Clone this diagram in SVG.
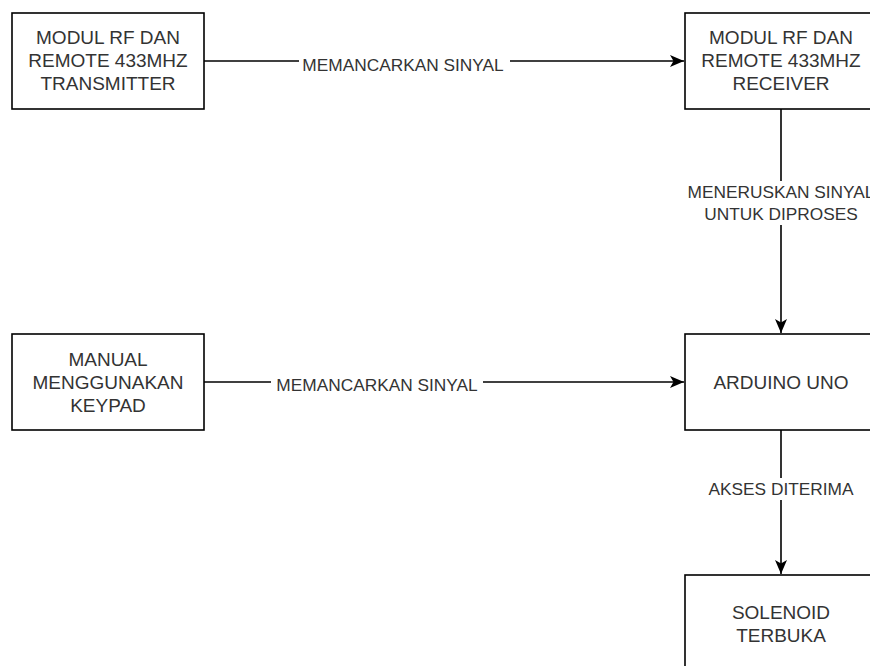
<svg xmlns="http://www.w3.org/2000/svg" width="870" height="666" viewBox="0 0 870 666">
<style>
.box{fill:#fff;stroke:#000;stroke-width:1.6}
.t{font-family:"Liberation Sans",Arial,sans-serif;font-size:19px;fill:#333;text-anchor:middle}
.l{font-family:"Liberation Sans",Arial,sans-serif;font-size:17.3px;fill:#333;text-anchor:middle}
.e{stroke:#000;stroke-width:1.6;fill:none}
.bg{fill:#fff}
</style>
<defs>
<marker id="arr" markerUnits="userSpaceOnUse" markerWidth="16" markerHeight="14" viewBox="0 0 16 14" refX="14" refY="7" orient="auto">
<path d="M14,7 L0,1 L3.5,7 L0,13 Z" fill="#000"/>
</marker>
</defs>
<rect width="870" height="666" fill="#fff"/>
<g id="connectors">
<path class="e" d="M204,61 L684,61" marker-end="url(#arr)"/>
<rect class="bg" x="299" y="52" width="211" height="22"/>
<text class="l" x="403" y="71">MEMANCARKAN SINYAL</text>
<path class="e" d="M204,382 L684,382" marker-end="url(#arr)"/>
<rect class="bg" x="271" y="373" width="212" height="22"/>
<text class="l" x="377" y="391">MEMANCARKAN SINYAL</text>
<path class="e" d="M781,109 L781,333" marker-end="url(#arr)"/>
<rect class="bg" x="684" y="181" width="194" height="44"/>
<text class="l" x="781" y="198">MENERUSKAN SINYAL</text>
<text class="l" x="781" y="220">UNTUK DIPROSES</text>
<path class="e" d="M781,430 L781,574" marker-end="url(#arr)"/>
<rect class="bg" x="700" y="478" width="160" height="22"/>
<text class="l" x="781" y="495">AKSES DITERIMA</text>
</g>
<g id="transmitter">
<rect class="box" x="12" y="13" width="192" height="96"/>
<text class="t" x="108" y="44">MODUL RF DAN</text>
<text class="t" x="108" y="67">REMOTE 433MHZ</text>
<text class="t" x="108" y="90">TRANSMITTER</text>
</g>
<g id="receiver">
<rect class="box" x="685" y="13" width="192" height="96"/>
<text class="t" x="781" y="44">MODUL RF DAN</text>
<text class="t" x="781" y="67">REMOTE 433MHZ</text>
<text class="t" x="781" y="90">RECEIVER</text>
</g>
<g id="keypad">
<rect class="box" x="12" y="334" width="192" height="96"/>
<text class="t" x="108" y="366">MANUAL</text>
<text class="t" x="108" y="389">MENGGUNAKAN</text>
<text class="t" x="108" y="412">KEYPAD</text>
</g>
<g id="arduino">
<rect class="box" x="685" y="334" width="192" height="96"/>
<text class="t" x="781" y="389">ARDUINO UNO</text>
</g>
<g id="solenoid">
<rect class="box" x="685" y="575" width="192" height="96"/>
<text class="t" x="781" y="619">SOLENOID</text>
<text class="t" x="781" y="642">TERBUKA</text>
</g>
</svg>
